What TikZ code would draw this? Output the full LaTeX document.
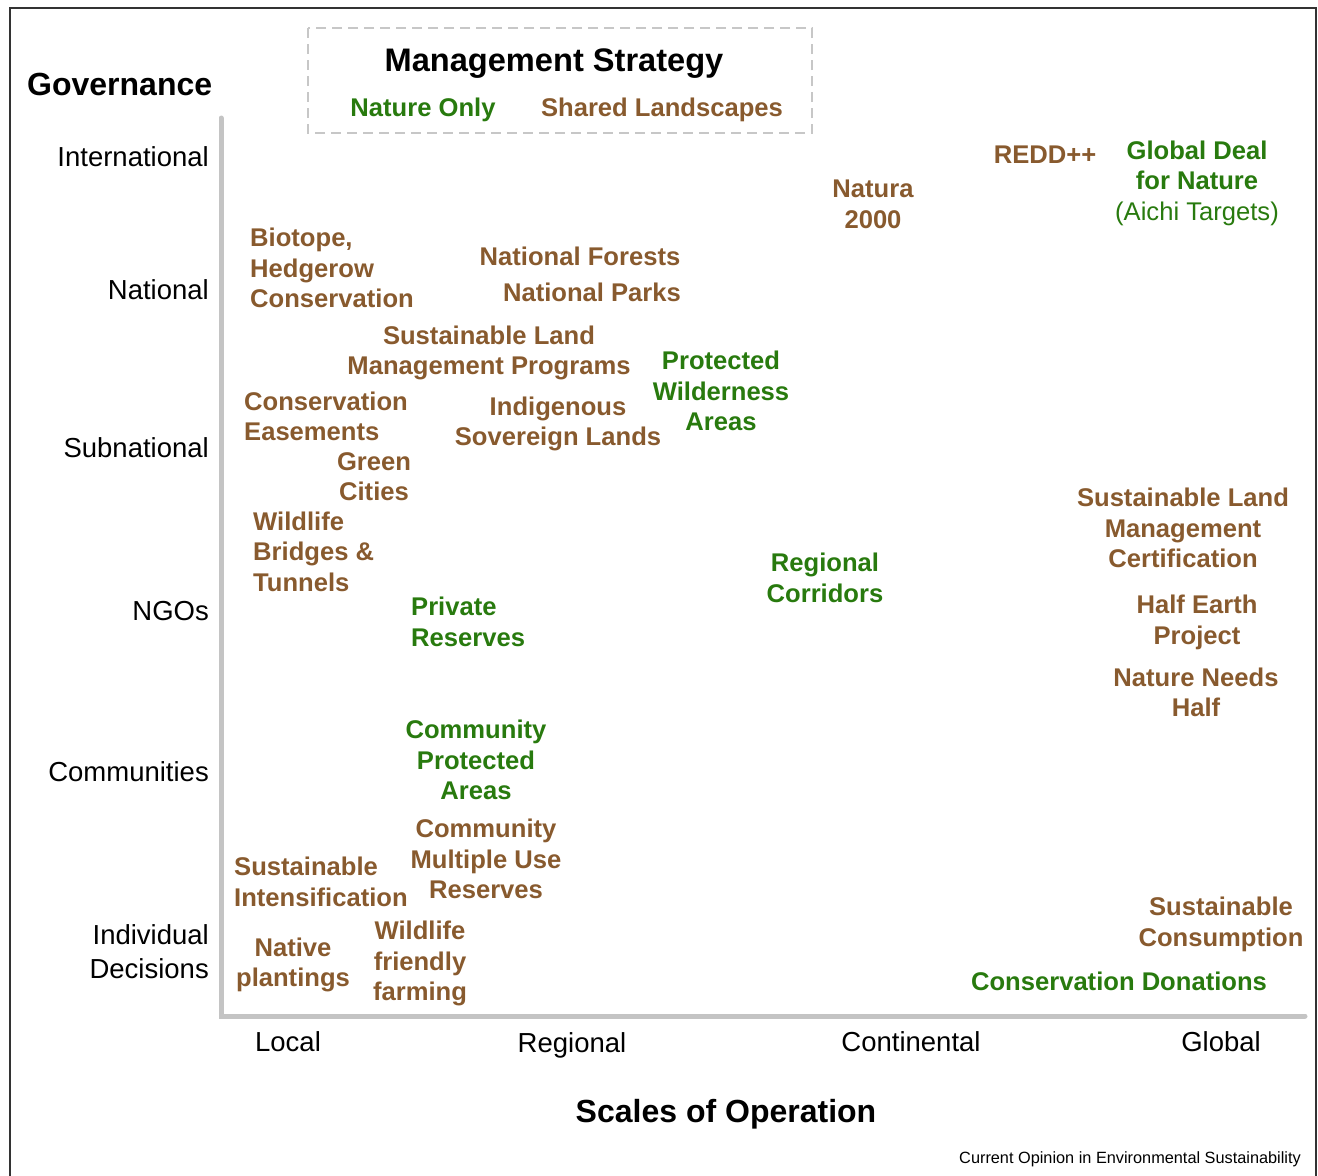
\documentclass[tikz,border=0pt]{standalone}
\usepackage{fontspec}
\setmainfont{Liberation Sans}
\usepackage{xcolor}
\usetikzlibrary{positioning}

\definecolor{natgreen}{RGB}{40,122,14}
\definecolor{landbrown}{RGB}{136,90,46}
\definecolor{axisgray}{RGB}{196,196,196}
\newcommand{\labfont}{\fontsize{25.6}{30.5}\selectfont\bfseries}

\begin{document}
\begin{tikzpicture}[x=1pt,y=-1pt,
    natonly/.style={text=natgreen, font=\labfont, align=center, inner sep=0pt},
    shared/.style={text=landbrown, font=\labfont, align=center, inner sep=0pt},
    level/.style={font=\fontsize{27.5}{34}\selectfont, anchor=east, align=right, inner sep=0pt},
    scalelab/.style={font=\fontsize{27.5}{34}\selectfont, inner sep=0pt},
    axtitle/.style={font=\fontsize{32}{36}\selectfont\bfseries, inner sep=0pt}]
    \useasboundingbox (0,0) rectangle (1318,1176);

    % Frame
    \draw[line width=1.5pt, black!80] (10,1180) -- (10,8) -- (1316,8) -- (1316,1180);

    % Axes
    \draw[line width=5pt, axisgray, line cap=round] (221,118) -- (221,1016) -- (1305,1016);
    \node[axtitle, anchor=west] (gov) at (27,84) {Governance};
    \node[axtitle] (scales) at (726,1114) {Scales of Operation};

    % Governance levels
    \node[level] (intl) at (209,157) {International};
    \node[level] (natl) at (209,290) {National};
    \node[level] (subnat) at (209,448) {Subnational};
    \node[level] (ngos) at (209,611) {NGOs};
    \node[level] (comm) at (209,772) {Communities};
    \node[level] (indiv) at (209,952) {Individual\\Decisions};

    % Scales of operation
    \node[scalelab] (local) at (288,1042) {Local};
    \node[scalelab] (regional) at (572,1045) {Regional};
    \node[scalelab] (continental) at (911,1042) {Continental};
    \node[scalelab] (global) at (1221,1042) {Global};

    % Legend
    \draw[dashed, line width=1.5pt, black!22, dash pattern=on 10pt off 6pt] (308,28) rectangle (812,133);
    \node[font=\fontsize{32.6}{36}\selectfont\bfseries, inner sep=0pt] (legtitle) at (554,64) {Management Strategy};
    \node[natonly] (legnat) at (423,110) {Nature Only};
    \node[shared] (legshared) at (662,110) {Shared Landscapes};

    % Shared landscapes
    \node[shared] (redd) at (1045,155) {REDD++};
    \node[shared] (natura) at (873,204.5) {Natura\\2000};
    \node[shared, anchor=west, align=left] (biotope) at (250,268) {Biotope,\\Hedgerow\\Conservation};
    \node[shared] (forests) at (580,256) {National Forests};
    \node[shared] (parks) at (592,292) {National Parks};
    \node[shared] (slmp) at (489,353) {Sustainable Land\\Management Programs};
    \node[shared, anchor=west, align=left] (easements) at (244,416.5) {Conservation\\Easements};
    \node[shared] (indigenous) at (558,424) {Indigenous\\Sovereign Lands};
    \node[shared] (green) at (374,476.5) {Green\\Cities};
    \node[shared, anchor=west, align=left] (bridges) at (253,551.5) {Wildlife\\Bridges \&\\Tunnels};
    \node[shared] (slmc) at (1183,528) {Sustainable Land\\Management\\Certification};
    \node[shared] (halfearth) at (1197,622.5) {Half Earth\\Project};
    \node[shared] (needshalf) at (1196,692.5) {Nature Needs\\Half};
    \node[shared] (multiuse) at (486,859) {Community\\Multiple Use\\Reserves};
    \node[shared, anchor=west, align=left] (intens) at (234,882) {Sustainable\\Intensification};
    \node[shared] (native) at (293,965) {Native\\plantings};
    \node[shared] (farming) at (420,963.5) {Wildlife\\friendly\\farming};
    \node[shared] (consumption) at (1221,924.5) {Sustainable\\Consumption};

    % Nature only
    \node[natonly] (globaldeal) at (1197,183) {Global Deal\\for Nature\\{\mdseries (Aichi Targets)}};
    \node[natonly] (wilderness) at (721,391) {Protected\\Wilderness\\Areas};
    \node[natonly] (corridors) at (825,578) {Regional\\Corridors};
    \node[natonly, anchor=west, align=left] (private) at (411,622) {Private\\Reserves};
    \node[natonly] (cpa) at (476,760) {Community\\Protected\\Areas};
    \node[natonly] (donations) at (1119,981) {Conservation Donations};

    \node[font=\fontsize{16.3}{18}\selectfont, anchor=east, inner sep=0pt] (credit) at (1301,1159) {Current Opinion in Environmental Sustainability};
\end{tikzpicture}
\end{document}
